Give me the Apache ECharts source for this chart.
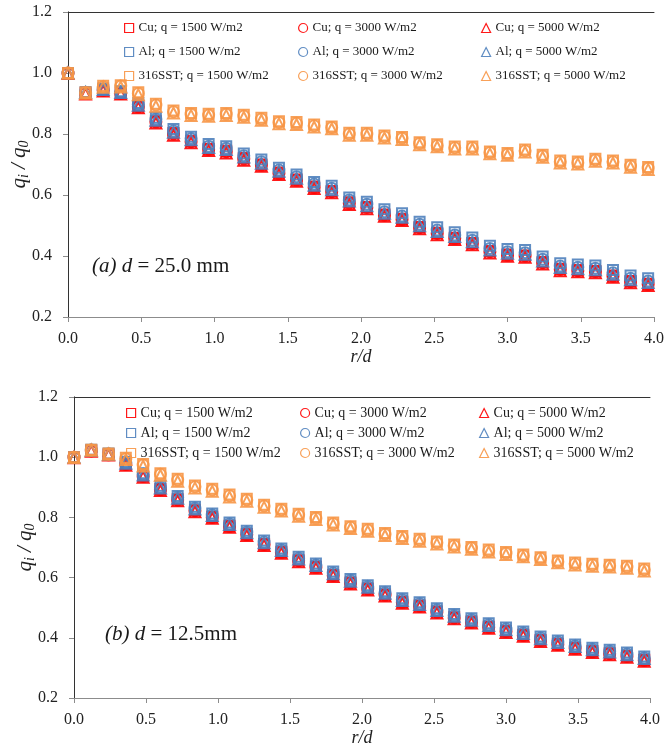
<!DOCTYPE html>
<html>
<head>
<meta charset="utf-8">
<script src="https://cdn.jsdelivr.net/npm/echarts@6/dist/echarts.min.js"></script>
<style>
  html, body { margin: 0; padding: 0; background: #ffffff; }
  #chart { width: 665px; height: 748px; }
</style>
</head>
<body>
<div id="chart"></div>
<script>
// Radial position r/d of each measuring point
const rOverD = [0.00,0.12,0.24,0.36,0.48,0.60,0.72,0.84,0.96,1.08,1.20,1.32,1.44,1.56,1.68,1.80,1.92,2.04,2.16,2.28,2.40,2.52,2.64,2.76,2.88,3.00,3.12,3.24,3.36,3.48,3.60,3.72,3.84,3.96];

// Axis ticks
const yTicks = [0.2, 0.4, 0.6, 0.8, 1.0, 1.2];
const xTicks = [0.0, 0.5, 1.0, 1.5, 2.0, 2.5, 3.0, 3.5, 4.0];

// Legend labels
const seriesNames = [
  'Cu; q = 1500 W/m2', 'Cu; q = 3000 W/m2', 'Cu; q = 5000 W/m2',
  'Al; q = 1500 W/m2', 'Al; q = 3000 W/m2', 'Al; q = 5000 W/m2',
  '316SST; q = 1500 W/m2', '316SST; q = 3000 W/m2', '316SST; q = 5000 W/m2'
];

// (a) d = 25.0 mm : q_i / q_0
const cu1500_a = [0.998,0.934,0.944,0.934,0.891,0.842,0.803,0.778,0.752,0.745,0.721,0.700,0.674,0.651,0.628,0.613,0.576,0.561,0.536,0.522,0.495,0.476,0.460,0.443,0.416,0.405,0.402,0.380,0.358,0.354,0.351,0.336,0.318,0.309];
const cu3000_a = [0.999,0.933,0.943,0.933,0.889,0.840,0.800,0.775,0.750,0.742,0.718,0.698,0.671,0.649,0.625,0.611,0.573,0.559,0.534,0.520,0.493,0.474,0.458,0.441,0.414,0.403,0.400,0.378,0.356,0.352,0.349,0.334,0.316,0.307];
const cu5000_a = [0.998,0.931,0.941,0.931,0.886,0.836,0.796,0.771,0.746,0.738,0.714,0.694,0.667,0.645,0.621,0.607,0.569,0.555,0.530,0.516,0.489,0.470,0.454,0.437,0.410,0.399,0.396,0.374,0.352,0.348,0.345,0.330,0.312,0.303];
const al1500_a = [1.000,0.938,0.949,0.940,0.902,0.853,0.816,0.791,0.767,0.760,0.736,0.716,0.689,0.667,0.643,0.630,0.592,0.578,0.553,0.540,0.512,0.494,0.478,0.461,0.434,0.423,0.420,0.398,0.376,0.372,0.369,0.354,0.336,0.327];
const al3000_a = [1.000,0.937,0.947,0.938,0.897,0.848,0.810,0.785,0.760,0.753,0.729,0.709,0.682,0.660,0.636,0.622,0.584,0.570,0.545,0.531,0.504,0.485,0.469,0.452,0.425,0.414,0.411,0.389,0.367,0.363,0.360,0.345,0.327,0.318];
const al5000_a = [1.000,0.936,0.946,0.936,0.894,0.845,0.806,0.781,0.756,0.749,0.725,0.704,0.678,0.655,0.632,0.617,0.580,0.565,0.540,0.527,0.499,0.480,0.464,0.447,0.420,0.409,0.406,0.384,0.362,0.358,0.355,0.340,0.322,0.313];
const sst1500_a = [1.000,0.937,0.958,0.960,0.937,0.899,0.877,0.869,0.866,0.869,0.863,0.853,0.842,0.839,0.831,0.825,0.804,0.804,0.795,0.790,0.773,0.766,0.759,0.759,0.743,0.738,0.749,0.732,0.713,0.710,0.719,0.713,0.699,0.692];
const sst3000_a = [1.000,0.935,0.955,0.957,0.933,0.895,0.873,0.865,0.862,0.865,0.859,0.849,0.838,0.835,0.827,0.821,0.800,0.800,0.791,0.786,0.769,0.762,0.755,0.755,0.739,0.734,0.745,0.728,0.709,0.706,0.715,0.709,0.695,0.688];
const sst5000_a = [0.999,0.934,0.953,0.954,0.929,0.891,0.869,0.861,0.858,0.861,0.855,0.845,0.834,0.831,0.823,0.817,0.796,0.796,0.787,0.782,0.765,0.758,0.751,0.751,0.735,0.730,0.741,0.724,0.705,0.702,0.711,0.705,0.691,0.684];

// (b) d = 12.5 mm : q_i / q_0
const cu1500_b = [0.999,1.022,1.009,0.978,0.938,0.894,0.860,0.824,0.802,0.772,0.745,0.712,0.686,0.658,0.636,0.609,0.584,0.564,0.544,0.520,0.507,0.487,0.468,0.454,0.437,0.423,0.410,0.393,0.380,0.367,0.356,0.349,0.340,0.327];
const cu3000_b = [1.000,1.021,1.008,0.976,0.936,0.892,0.858,0.822,0.800,0.770,0.743,0.710,0.684,0.656,0.634,0.607,0.582,0.562,0.542,0.518,0.505,0.485,0.466,0.452,0.435,0.421,0.408,0.391,0.378,0.365,0.354,0.347,0.338,0.325];
const cu5000_b = [0.998,1.020,1.007,0.973,0.933,0.889,0.855,0.819,0.797,0.767,0.740,0.707,0.681,0.653,0.631,0.604,0.579,0.559,0.539,0.515,0.502,0.482,0.463,0.449,0.432,0.418,0.405,0.388,0.375,0.362,0.351,0.344,0.335,0.322];
const al1500_b = [1.000,1.025,1.012,0.985,0.947,0.905,0.871,0.835,0.813,0.783,0.756,0.723,0.697,0.669,0.647,0.620,0.595,0.575,0.555,0.531,0.518,0.498,0.479,0.465,0.448,0.434,0.421,0.404,0.391,0.378,0.367,0.360,0.351,0.338];
const al3000_b = [1.000,1.024,1.011,0.982,0.943,0.900,0.866,0.830,0.808,0.778,0.751,0.718,0.692,0.664,0.642,0.615,0.590,0.570,0.550,0.526,0.513,0.493,0.474,0.460,0.443,0.429,0.416,0.399,0.386,0.373,0.362,0.355,0.346,0.333];
const al5000_b = [1.000,1.023,1.010,0.980,0.941,0.898,0.864,0.828,0.806,0.776,0.749,0.716,0.690,0.662,0.640,0.613,0.588,0.568,0.548,0.524,0.511,0.491,0.472,0.458,0.441,0.427,0.414,0.397,0.384,0.371,0.360,0.353,0.344,0.331];
const sst1500_b = [1.000,1.025,1.012,0.998,0.977,0.947,0.928,0.906,0.895,0.876,0.862,0.842,0.829,0.812,0.801,0.783,0.771,0.762,0.748,0.738,0.729,0.720,0.710,0.702,0.693,0.685,0.677,0.668,0.657,0.650,0.646,0.643,0.639,0.630];
const sst3000_b = [1.000,1.024,1.011,0.995,0.974,0.943,0.924,0.902,0.891,0.872,0.858,0.838,0.825,0.808,0.797,0.779,0.767,0.758,0.744,0.734,0.725,0.716,0.706,0.698,0.689,0.681,0.673,0.664,0.653,0.646,0.642,0.639,0.635,0.626];
const sst5000_b = [0.999,1.023,1.010,0.992,0.971,0.940,0.920,0.898,0.887,0.868,0.854,0.834,0.821,0.804,0.793,0.775,0.763,0.754,0.740,0.730,0.721,0.712,0.702,0.694,0.685,0.677,0.669,0.660,0.649,0.642,0.638,0.635,0.631,0.622];

const valuesA = [cu1500_a, cu3000_a, cu5000_a, al1500_a, al3000_a, al5000_a, sst1500_a, sst3000_a, sst5000_a];
const valuesB = [cu1500_b, cu3000_b, cu5000_b, al1500_b, al3000_b, al5000_b, sst1500_b, sst3000_b, sst5000_b];

const SERIF = '"Liberation Serif", "Times New Roman", serif';
const RED = '#ff0000', BLUE = '#4f81bd', ORANGE = '#f79646';
const colors = [RED, RED, RED, BLUE, BLUE, BLUE, ORANGE, ORANGE, ORANGE];
const symbols = ['rect', 'circle', 'triangle', 'rect', 'circle', 'triangle', 'rect', 'circle', 'triangle'];
const sizes = { rect: 10, circle: 11, triangle: 11 };

const chart = echarts.init(document.getElementById('chart'), null, { renderer: 'canvas' });

function buildSeries(values, axisIdx) {
  return values.map((arr, k) => ({
    type: 'scatter',
    name: seriesNames[k],
    xAxisIndex: axisIdx,
    yAxisIndex: axisIdx,
    symbol: symbols[k],
    symbolSize: sizes[symbols[k]],
    itemStyle: { color: 'rgba(255,255,255,0)', borderColor: colors[k], borderWidth: 2, opacity: 0.9 },
    emphasis: { disabled: true },
    data: rOverD.map((r, i) => [r, arr[i]])
  }));
}

const fmt1 = v => Number(v).toFixed(1);

function mainX(grid) {
  return {
    type: 'value', gridIndex: grid, position: 'bottom',
    min: xTicks[0], max: xTicks[xTicks.length - 1], interval: 0.5,
    axisLine: { show: true, lineStyle: { color: '#8c8c8c', width: 1 } },
    axisTick: { show: true, inside: false, length: 5, lineStyle: { color: '#8c8c8c' } },
    axisLabel: { formatter: fmt1, fontFamily: SERIF, fontSize: 16, color: '#222', margin: 14 },
    splitLine: { show: false },
    name: 'r/d', nameLocation: 'middle', nameGap: 28,
    nameTextStyle: { fontFamily: SERIF, fontStyle: 'italic', fontSize: 18, color: '#222' }
  };
}
function frameX(grid) {
  return {
    type: 'value', gridIndex: grid, position: 'top',
    min: xTicks[0], max: xTicks[xTicks.length - 1],
    axisLine: { show: true, lineStyle: { color: '#333', width: 1 } },
    axisTick: { show: false }, axisLabel: { show: false }, splitLine: { show: false }
  };
}
const yName = '{q|q}{sub|i}{q| / q}{sub|0}';
function mainY(grid) {
  return {
    type: 'value', gridIndex: grid, position: 'left',
    min: yTicks[0], max: yTicks[yTicks.length - 1], interval: 0.2,
    axisLine: { show: true, lineStyle: { color: '#8c8c8c', width: 1 } },
    axisTick: { show: true, inside: false, length: 5, lineStyle: { color: '#8c8c8c' } },
    axisLabel: { formatter: fmt1, fontFamily: SERIF, fontSize: 16, color: '#222', margin: 16 },
    splitLine: { show: false },
    name: yName, nameLocation: 'middle', nameGap: 37, nameMoveOverlap: false,
    nameTextStyle: {
      fontFamily: SERIF, fontStyle: 'italic', fontSize: 21, color: '#222',
      rich: {
        q: { fontFamily: SERIF, fontStyle: 'italic', fontSize: 21, lineHeight: 22, verticalAlign: 'top', color: '#222' },
        sub: { fontFamily: SERIF, fontStyle: 'italic', fontSize: 14, lineHeight: 14, padding: [12, 0, 0, 0], verticalAlign: 'bottom', color: '#222' }
      }
    }
  };
}
function frameY(grid) {
  return {
    type: 'value', gridIndex: grid, position: 'right',
    min: yTicks[0], max: yTicks[yTicks.length - 1],
    axisLine: { show: true, lineStyle: { color: '#333', width: 1 } },
    axisTick: { show: false }, axisLabel: { show: false }, splitLine: { show: false }
  };
}

function legendColumn(names, left, top, rowH, fontSize) {
  return {
    orient: 'vertical', left: left, top: top, padding: 0,
    itemWidth: 9, itemHeight: 9, itemGap: 0,
    selectedMode: false,
    itemStyle: { borderWidth: 1.2 },
    textStyle: { fontFamily: SERIF, fontSize: fontSize, color: '#1a1a1a', lineHeight: rowH },
    data: names
  };
}

const colA = [seriesNames[0], seriesNames[3], seriesNames[6]];
const colB = [seriesNames[1], seriesNames[4], seriesNames[7]];
const colC = [seriesNames[2], seriesNames[5], seriesNames[8]];

const option = {
  animation: false,
  backgroundColor: '#ffffff',
  grid: [
    { left: 68, top: 12, width: 586, height: 305, outerBoundsMode: 'none' },
    { left: 74, top: 397, width: 576, height: 301, outerBoundsMode: 'none' }
  ],
  xAxis: [mainX(0), mainX(1), frameX(0), frameX(1)],
  yAxis: [mainY(0), mainY(1), frameY(0), frameY(1)],
  legend: [
    legendColumn(colA, 124, 16, 24, 13),
    legendColumn(colB, 298, 16, 24, 13),
    legendColumn(colC, 481, 16, 24, 13),
    legendColumn(colA, 126, 403, 20, 14),
    legendColumn(colB, 300, 403, 20, 14),
    legendColumn(colC, 479, 403, 20, 14)
  ],
  graphic: [
    {
      type: 'text', left: 92, top: 256,
      style: {
        text: '{i|(a)} {i|d} = 25.0 mm',
        fontFamily: SERIF, fontSize: 21, fill: '#1a1a1a',
        rich: { i: { fontFamily: SERIF, fontStyle: 'italic', fontSize: 21, fill: '#1a1a1a' } }
      }
    },
    {
      type: 'text', left: 105, top: 624,
      style: {
        text: '{i|(b)} {i|d} = 12.5mm',
        fontFamily: SERIF, fontSize: 21, fill: '#1a1a1a',
        rich: { i: { fontFamily: SERIF, fontStyle: 'italic', fontSize: 21, fill: '#1a1a1a' } }
      }
    }
  ],
  series: buildSeries(valuesA, 0).concat(buildSeries(valuesB, 1))
};

chart.setOption(option);
</script>
</body>
</html>
